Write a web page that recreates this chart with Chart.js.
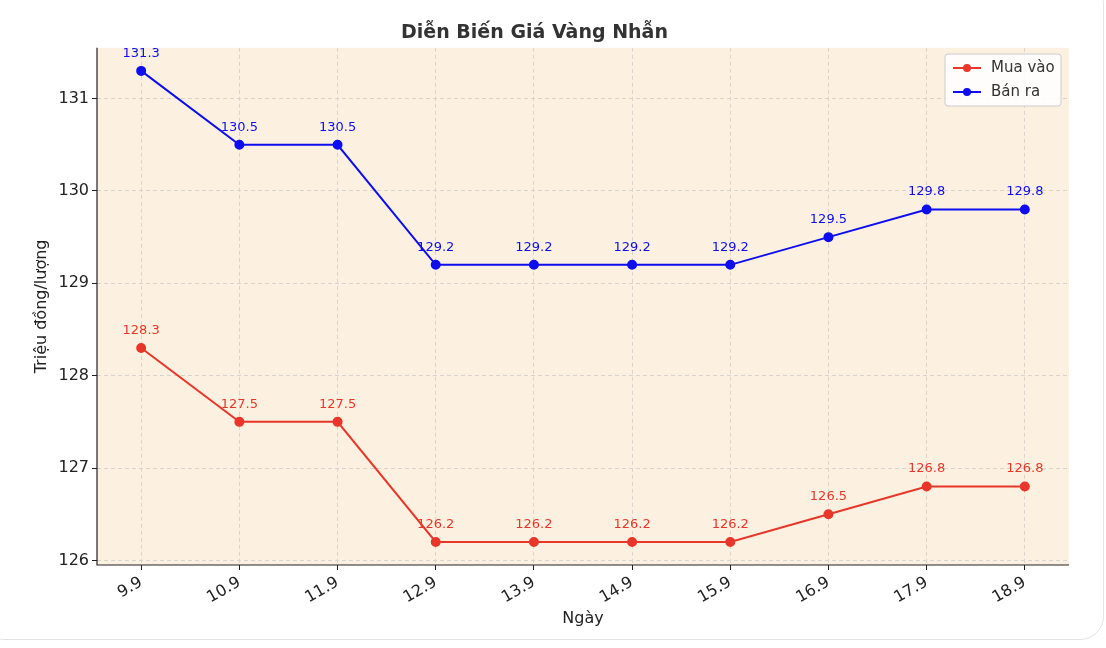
<!DOCTYPE html>
<html><head><meta charset="utf-8">
<script src="https://cdn.jsdelivr.net/npm/chart.js@4/dist/chart.umd.min.js"></script>
<style>
body{margin:0;background:#fff;}
#wrap{position:absolute;left:0;top:0;width:1106px;height:648px;}
#frame{position:absolute;left:-20px;top:-20px;width:1122px;height:658px;border:1px solid #e4e4e4;border-radius:24px;}
</style></head>
<body><div id="frame"></div><div id="wrap"><canvas id="c" width="1106" height="648"></canvas></div>
<script>
const ngay = ["9.9","10.9","11.9","12.9","13.9","14.9","15.9","16.9","17.9","18.9"];
const muaVao = [128.3,127.5,127.5,126.2,126.2,126.2,126.2,126.5,126.8,126.8];
const banRa = [131.3,130.5,130.5,129.2,129.2,129.2,129.2,129.5,129.8,129.8];
const yTicks = [126,127,128,129,130,131];

const font = "'DejaVu Sans', sans-serif";

const nenVe = {
  id: "nenVe",
  beforeDraw(chart) {
    const { ctx, chartArea: a } = chart;
    ctx.save();
    ctx.fillStyle = "#fcf1e1";
    ctx.fillRect(a.left, a.top, a.right - a.left, a.bottom - a.top);
    ctx.restore();
  },
  afterDatasetsDraw(chart) {
    const { ctx, chartArea: a } = chart;
    ctx.save();
    ctx.font = "13px " + font;
    ctx.textAlign = "center";
    chart.data.datasets.forEach((ds, i) => {
      const meta = chart.getDatasetMeta(i);
      ctx.fillStyle = ds.borderColor;
      meta.data.forEach((p, j) => ctx.fillText(ds.data[j].y.toFixed(1), p.x, p.y - 14));
    });
    // spines
    ctx.strokeStyle = "#222";
    ctx.lineWidth = 1.2;
    ctx.beginPath();
    ctx.moveTo(a.left, a.top); ctx.lineTo(a.left, a.bottom); ctx.lineTo(a.right, a.bottom);
    ctx.stroke();
    // legend
    const lx = 945, ly = 54;
    ctx.fillStyle = "rgba(255,255,255,0.85)";
    ctx.strokeStyle = "#ccc";
    ctx.lineWidth = 1;
    ctx.beginPath(); ctx.roundRect(lx, ly, 116, 52, 3); ctx.fill(); ctx.stroke();
    [["Mua vào", "#e8372a"], ["Bán ra", "#0d0df0"]].forEach((it, k) => {
      const y = ly + 14 + k * 24;
      ctx.strokeStyle = it[1]; ctx.fillStyle = it[1]; ctx.lineWidth = 2;
      ctx.beginPath(); ctx.moveTo(lx + 8, y); ctx.lineTo(lx + 36, y); ctx.stroke();
      ctx.beginPath(); ctx.arc(lx + 22, y, 4, 0, Math.PI * 2); ctx.fill();
      ctx.fillStyle = "#333"; ctx.textAlign = "left"; ctx.textBaseline = "middle";
      ctx.font = "15px " + font;
      ctx.fillText(it[0], lx + 46, y);
    });
    ctx.restore();
  }
};

function diem(arr) { return arr.map((v, i) => ({ x: i, y: v })); }

new Chart(document.getElementById("c"), {
  type: "line",
  data: {
    datasets: [
      { label: "Mua vào", data: diem(muaVao), borderColor: "#e8372a", backgroundColor: "#e8372a", borderWidth: 2, pointRadius: 4, tension: 0 },
      { label: "Bán ra", data: diem(banRa), borderColor: "#0d0df0", backgroundColor: "#0d0df0", borderWidth: 2, pointRadius: 4, tension: 0 }
    ]
  },
  options: {
    responsive: false, animation: false,
    layout: { padding: { left: 0, right: 37, top: 0, bottom: 20 } },
    plugins: {
      legend: { display: false }, tooltip: { enabled: false },
      title: { display: true, text: "Diễn Biến Giá Vàng Nhẫn", color: "#333", font: { family: font, size: 19, weight: "bold" }, padding: { top: 22, bottom: 3 } }
    },
    scales: {
      x: {
        type: "linear", min: -0.45, max: 9.45,
        afterBuildTicks(s) { s.ticks = ngay.map((_, i) => ({ value: i })); },
        afterFit(s) { s.height = 63; },
        ticks: { callback: v => ngay[v], color: "#222", font: { family: font, size: 16 }, maxRotation: 30, minRotation: 30 },
        grid: { color: "#d8d3cb", tickColor: "#222", tickLength: 5, drawOnChartArea: true },
        border: { display: false, dash: [4, 3] },
        title: { display: true, text: "Ngày", color: "#222", font: { family: font, size: 16 }, padding: 0 }
      },
      y: {
        min: 125.95, max: 131.55,
        afterBuildTicks(s) { s.ticks = yTicks.map(v => ({ value: v })); },
        afterFit(s) { s.width = 97; },
        ticks: { color: "#222", font: { family: font, size: 16 } },
        grid: { color: "#d8d3cb", tickColor: "#222", tickLength: 5 },
        border: { display: false, dash: [4, 3] },
        title: { display: true, text: "Triệu đồng/lượng", color: "#222", font: { family: font, size: 16 }, padding: { top: 32, bottom: 2 } }
      }
    }
  },
  plugins: [nenVe]
});
</script></body></html>
